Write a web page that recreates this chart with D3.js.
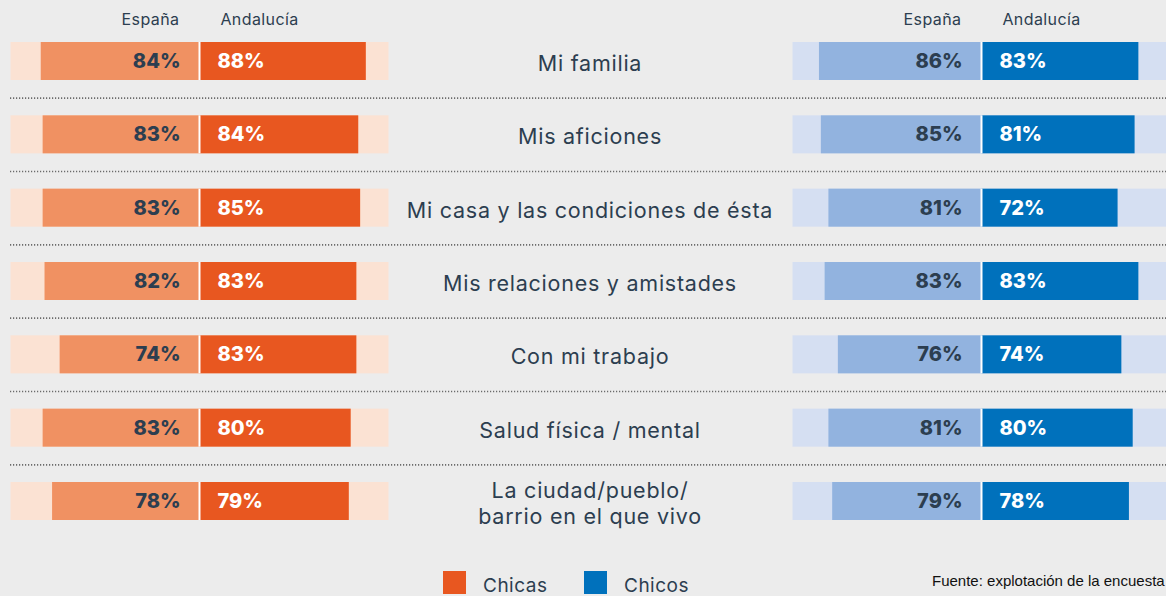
<!DOCTYPE html>
<html><head><meta charset="utf-8">
<script src="https://cdn.jsdelivr.net/npm/d3@7"></script>
<style>
html,body{margin:0;padding:0;background:#ececec;overflow:hidden;}
svg{display:block;}
</style></head>
<body>
<svg id="c" width="1166" height="596"></svg>
<script>
const categories = [
  ["Mi familia"],
  ["Mis aficiones"],
  ["Mi casa y las condiciones de ésta"],
  ["Mis relaciones y amistades"],
  ["Con mi trabajo"],
  ["Salud física / mental"],
  ["La ciudad/pueblo/", "barrio en el que vivo"]
];
const chicasEspana    = [84, 83, 83, 82, 74, 83, 78];
const chicasAndalucia = [88, 84, 85, 83, 83, 80, 79];
const chicosEspana    = [86, 85, 81, 83, 76, 81, 79];
const chicosAndalucia = [83, 81, 72, 83, 74, 80, 78];
const headers = ["España", "Andalucía"];
const legendLabels = ["Chicas", "Chicos"];
const source = "Fuente: explotación de la encuesta";

const W = 1166, H = 596;
const svg = d3.select("#c");
const txtColor = "#2c3e50";
const font = "Inter, 'Noto Sans', sans-serif";

const keys = categories.map((d, i) => i);
const y = d3.scalePoint().domain(keys).range([61, 501]);
const barH = 38;
const x = d3.scaleLinear().domain([0, 100]).range([0, 189]);

const panels = [
  {center: 199.5, esp: chicasEspana, and: chicasAndalucia, track: "#fbe2d3", cEsp: "#f09162", cAnd: "#e85720"},
  {center: 981.5, esp: chicosEspana, and: chicosAndalucia, track: "#d5dff2", cEsp: "#92b3df", cAnd: "#0071bc"}
];

// dotted separators
const seps = d3.range(categories.length - 1);
svg.selectAll("line.sep").data(seps).join("line")
  .attr("x1", 10).attr("x2", W)
  .attr("y1", d => (y(d) + y(d + 1)) / 2 + 0.5)
  .attr("y2", d => (y(d) + y(d + 1)) / 2 + 0.5)
  .attr("stroke", "#6b6b6b").attr("stroke-width", 1.6)
  .attr("stroke-dasharray", "1.2,1.8");

panels.forEach(p => {
  const g = svg.append("g");
  g.selectAll("rect.track").data(keys).join("rect")
    .attr("x", p.center - x(100)).attr("width", x(100) * 2)
    .attr("y", d => y(d) - barH / 2).attr("height", barH)
    .attr("fill", p.track);
  g.selectAll("rect.esp").data(keys).join("rect")
    .attr("x", d => p.center - x(p.esp[d])).attr("width", d => x(p.esp[d]))
    .attr("y", d => y(d) - barH / 2).attr("height", barH)
    .attr("fill", p.cEsp);
  g.selectAll("rect.and").data(keys).join("rect")
    .attr("x", p.center).attr("width", d => x(p.and[d]))
    .attr("y", d => y(d) - barH / 2).attr("height", barH)
    .attr("fill", p.cAnd);
  g.selectAll("line.div").data(keys).join("line")
    .attr("x1", p.center).attr("x2", p.center)
    .attr("y1", d => y(d) - barH / 2).attr("y2", d => y(d) + barH / 2)
    .attr("stroke", "#ffffff").attr("stroke-width", 2);
  g.selectAll("text.esp").data(keys).join("text")
    .attr("x", p.center - 19).attr("y", d => y(d) + 7)
    .attr("text-anchor", "end")
    .attr("font-family", font).attr("font-weight", 800).attr("font-size", 20)
    .attr("fill", txtColor)
    .text(d => p.esp[d] + "%");
  g.selectAll("text.and").data(keys).join("text")
    .attr("x", p.center + 18).attr("y", d => y(d) + 7)
    .attr("text-anchor", "start")
    .attr("font-family", font).attr("font-weight", 800).attr("font-size", 20)
    .attr("fill", "#ffffff")
    .text(d => p.and[d] + "%");
  g.append("text").attr("x", p.center - 49).attr("y", 25)
    .attr("text-anchor", "middle").attr("font-family", font).attr("font-size", 16)
    .attr("letter-spacing", 0.4)
    .attr("fill", txtColor).text(headers[0]);
  g.append("text").attr("x", p.center + 60).attr("y", 25)
    .attr("text-anchor", "middle").attr("font-family", font).attr("font-size", 16)
    .attr("letter-spacing", 0.4)
    .attr("fill", txtColor).text(headers[1]);
});

// category labels
const cat = svg.selectAll("text.cat").data(keys).join("text")
  .attr("text-anchor", "middle")
  .attr("font-family", font).attr("font-size", 21.5)
  .attr("letter-spacing", 0.75)
  .attr("fill", txtColor);
cat.each(function(d) {
  const lines = categories[d];
  const t = d3.select(this);
  const lh = 26;
  const y0 = y(d) + 10 - (lines.length - 1) * lh / 2;
  lines.forEach((l, j) => {
    t.append("tspan").attr("x", 590).attr("y", y0 + j * lh).text(l);
  });
});

// legend
const legColors = ["#e85720", "#0071bc"];
const legX = [443, 584];
legendLabels.forEach((l, i) => {
  svg.append("rect").attr("x", legX[i]).attr("y", 571).attr("width", 23).attr("height", 23)
    .attr("fill", legColors[i]);
  svg.append("text").attr("x", legX[i] + 40).attr("y", 592)
    .attr("font-family", font).attr("font-size", 19).attr("letter-spacing", 0.5)
    .attr("fill", txtColor).text(l);
});

// source
svg.append("text").attr("x", 932).attr("y", 586)
  .attr("font-family", "'Liberation Sans', Arial, sans-serif").attr("font-size", 15)
  .attr("fill", "#111").text(source);
</script>
</body></html>
